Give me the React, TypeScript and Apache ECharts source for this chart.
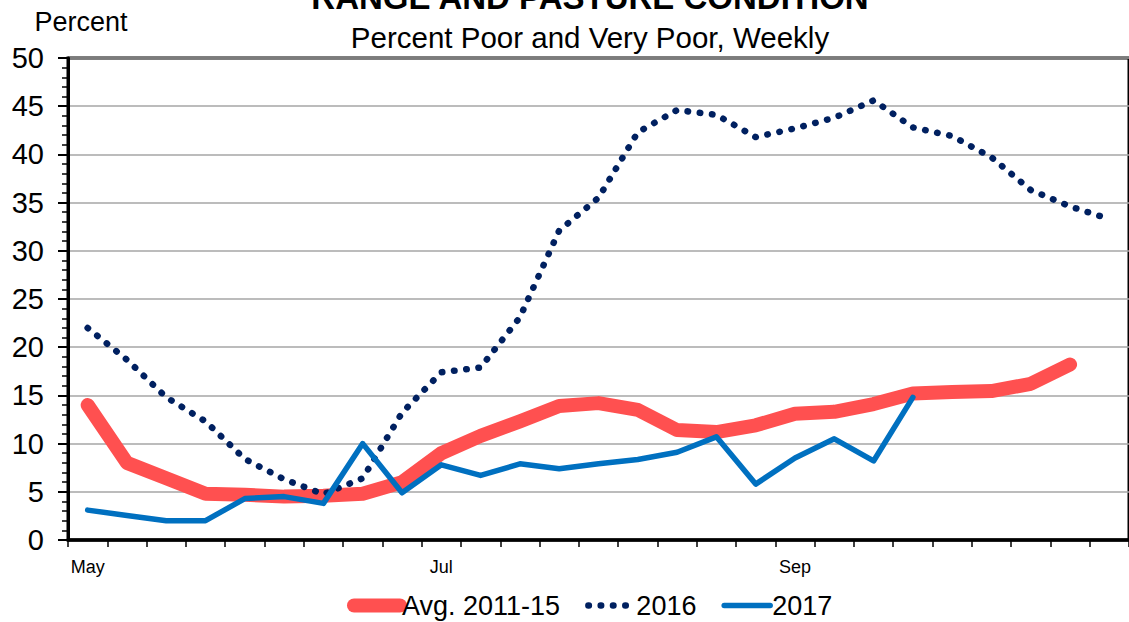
import React, { useEffect, useRef } from 'react';
import * as echarts from 'echarts';

const weeks = [
  'May 7', 'May 14', 'May 21', 'May 28', 'Jun 4', 'Jun 11', 'Jun 18', 'Jun 25',
  'Jul 2', 'Jul 9', 'Jul 16', 'Jul 23', 'Jul 30', 'Aug 6', 'Aug 13', 'Aug 20', 'Aug 27',
  'Sep 3', 'Sep 10', 'Sep 17', 'Sep 24', 'Oct 1', 'Oct 8', 'Oct 15', 'Oct 22', 'Oct 29', 'Nov 5',
];

const avg2011_15 = [
  14.0, 8.0, 6.4, 4.8, 4.7, 4.5, 4.6, 4.8, 6.0, 9.0, 10.8, 12.3, 13.9, 14.2, 13.5,
  11.4, 11.2, 11.9, 13.1, 13.3, 14.1, 15.2, 15.35, 15.45, 16.2, 18.2,
];

const y2016 = [
  22.0, 18.7, 14.8, 12.3, 8.4, 6.3, 4.75, 6.4, 13.2, 17.4, 17.9, 23.1, 32.1, 35.5,
  42.3, 44.6, 44.1, 41.8, 42.7, 43.8, 45.6, 42.8, 41.9, 39.7, 36.3, 34.6, 33.3,
];

const y2017 = [
  3.1, 2.55, 2.0, 2.0, 4.3, 4.5, 3.8, 10.0, 4.9, 7.8, 6.7, 7.9, 7.4, 7.9, 8.35,
  9.1, 10.7, 5.8, 8.5, 10.5, 8.2, 14.8,
];

const seriesNames = ['Avg. 2011-15', '2016', '2017'];
const title = 'RANGE AND PASTURE CONDITION';
const subtitle = 'Percent Poor and Very Poor, Weekly';
const yName = 'Percent';

const FONT = '"Liberation Sans", Arial, sans-serif';

export default function App() {
  const ref = useRef<HTMLDivElement>(null);

  useEffect(() => {
    const chart = echarts.init(ref.current!, null, { renderer: 'svg' });
    chart.setOption({
      animation: false,
      backgroundColor: '#fff',
      textStyle: { fontFamily: FONT, color: '#000' },
      graphic: [
        {
          type: 'text',
          x: 590,
          y: -3,
          style: {
            text: title,
            fontSize: 33,
            fontWeight: 'bold',
            fontFamily: FONT,
            fill: '#000',
            align: 'center',
            verticalAlign: 'middle',
          },
        },
        {
          type: 'text',
          x: 590,
          y: 37,
          style: {
            text: subtitle,
            fontSize: 29.5,
            fontFamily: FONT,
            fill: '#000',
            align: 'center',
            verticalAlign: 'middle',
          },
        },
        {
          type: 'text',
          x: 81,
          y: 22,
          style: {
            text: yName,
            fontSize: 27,
            fontFamily: FONT,
            fill: '#000',
            align: 'center',
            verticalAlign: 'middle',
          },
        },
      ],
      legend: {
        data: seriesNames,
        left: 347,
        top: 592,
        padding: 0,
        itemWidth: 46,
        itemHeight: 14,
        itemGap: 25,
        itemStyle: { opacity: 0 },
        lineStyle: { width: 'inherit', type: 'inherit', cap: 'round', join: 'round' },
        textStyle: { fontSize: 27, fontFamily: FONT, color: '#000', padding: [0, 0, 0, -3] },
      },
      grid: {
        left: 68,
        top: 58,
        right: -6,
        bottom: 82,
        show: true,
        borderColor: '#000',
        borderWidth: 3,
        backgroundColor: 'transparent',
      },
      xAxis: {
        type: 'category',
        data: weeks,
        boundaryGap: true,
        axisLine: { show: true, lineStyle: { color: '#000', width: 3.5 } },
        axisTick: { show: true, interval: 0, length: 7, lineStyle: { color: '#000', width: 1.5 } },
        axisLabel: {
          interval: 8,
          margin: 18,
          fontSize: 18,
          fontFamily: FONT,
          color: '#000',
          formatter: (v: string) => v.split(' ')[0],
        },
        splitLine: { show: false },
      },
      yAxis: {
        type: 'value',
        min: 0,
        max: 50,
        interval: 5,
        axisLine: { show: true, lineStyle: { color: '#000', width: 3 } },
        axisTick: { show: true, length: 10, lineStyle: { color: '#000', width: 2 } },
        minorTick: { show: true, splitNumber: 5, length: 6, lineStyle: { color: '#000', width: 1.5 } },
        axisLabel: { fontSize: 29, fontFamily: FONT, color: '#000', margin: 24 },
        splitLine: { show: true, lineStyle: { color: '#A6A6A6', width: 1.5 } },
      },
      series: [
        {
          name: seriesNames[0],
          type: 'line',
          data: avg2011_15,
          symbol: 'none',
          color: '#FF5050',
          lineStyle: { color: '#FF5050', width: 14, cap: 'round', join: 'round' },
          z: 2,
        },
        {
          name: seriesNames[1],
          type: 'line',
          data: y2016,
          symbol: 'none',
          color: '#002060',
          lineStyle: { color: '#002060', width: 6.5, type: [0.5, 11.8], cap: 'round', join: 'round' },
          z: 3,
        },
        {
          name: seriesNames[2],
          type: 'line',
          data: y2017,
          symbol: 'none',
          color: '#0070C0',
          lineStyle: { color: '#0070C0', width: 5.5, cap: 'round', join: 'round' },
          z: 4,
        },
      ],
    });
    return () => chart.dispose();
  }, []);

  return (
    <div style={{ position: 'fixed', left: 0, top: 0, width: 1129, height: 622, background: '#fff', overflow: 'hidden' }}>
      <div ref={ref} style={{ width: 1129, height: 622 }} />
    </div>
  );
}
